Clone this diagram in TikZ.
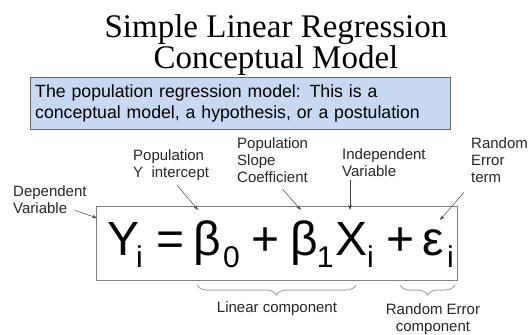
\documentclass[tikz,border=0pt]{standalone}
\usepackage{fontspec}
\setmainfont{Liberation Sans}
\newfontfamily\titlefont{Liberation Serif}
\usetikzlibrary{arrows.meta,decorations.pathreplacing}
\definecolor{boxblue}{HTML}{C6D9F1}
\definecolor{labelgray}{HTML}{262626}
\definecolor{bracegray}{HTML}{A6A6A6}
\newcommand{\lowsub}[1]{\raisebox{-12pt}{\fontsize{30}{30}\selectfont #1}}

\begin{document}
\begin{tikzpicture}[
  x=1pt,y=-1pt,
  lbl/.style={font=\fontsize{15}{17}\selectfont,text=labelgray,align=left,
              inner sep=0pt,anchor=base west},
  pointer/.style={-{Stealth[length=5pt,width=3.5pt]},labelgray!85,line width=0.5pt},
  brc/.style={decorate,decoration={brace,mirror,amplitude=10pt},bracegray,line width=1pt}
]
\useasboundingbox (0,0) rectangle (528,335);
\node[font=\titlefont\fontsize{33}{31}\selectfont,align=center,inner sep=0pt,anchor=base]
  (title) at (276,68) {Simple Linear Regression\\Conceptual Model};
\node[draw=gray!80!black,fill=boxblue,anchor=north west,minimum width=420,minimum height=52,
      text width=410,inner xsep=5pt,align=left,font=\fontsize{17.7}{20.5}\selectfont]
  (popbox) at (30,77) {The population regression model: This is a\\conceptual model, a hypothesis, or a postulation};
\node[draw=gray,line width=0.6pt,anchor=north west,minimum width=361,minimum height=74,inner sep=0pt]
  (eqbox) at (96,206) {};
\node[font=\fontsize{48}{48}\selectfont,inner sep=0pt,anchor=base west] (eq) at (107,255)
  {Y\hspace{-3pt}\lowsub{i}\hspace{14pt}=\hspace{9pt}β\hspace{1.5pt}\lowsub{0}\hspace{12pt}+\hspace{10.5pt}β\hspace{-1pt}\lowsub{1}\hspace{1.5pt}X\lowsub{i}\hspace{12.5pt}+\hspace{8.5pt}ε\hspace{3pt}\lowsub{i}};
% labels above
\node[lbl] (depvar) at (13,213) {Dependent\\Variable};
\node[lbl] (yint) at (133,177) {Population\\Y\ \ intercept};
\node[lbl] (slope) at (237,182) {Population\\Slope\\Coefficient};
\node[lbl] (indep) at (342,176) {Independent\\Variable};
\node[lbl] (rterm) at (471,182) {Random\\Error\\term};
\coordinate (tipY) at (97,218);
\coordinate (tipB0) at (198,210);
\coordinate (tipB1) at (301,210);
\coordinate (tipX) at (350,210);
\coordinate (tipE) at (440,220);
\draw[pointer] ([shift={(-12,-3)}]depvar.south east) -- (tipY);
\draw[pointer] ([shift={(6,5)}]yint.south) -- (tipB0);
\draw[pointer] ([shift={(10,7)}]slope.south) -- (tipB1);
\draw[pointer] ([shift={(8,4)}]indep.south west) -- (tipX);
\draw[pointer] ([shift={(-7,10)}]rterm.south west) -- (tipE);
% braces below
\coordinate (linL) at (197,285);
\coordinate (linR) at (356,285);
\coordinate (errL) at (400,285);
\coordinate (errR) at (455,285);
\draw[brc] (linL) -- (linR);
\draw[brc] (errL) -- (errR);
\node[lbl,anchor=base] (lincomp) at (277,312) {Linear component};
\node[lbl,anchor=base,align=center] (errcomp) at (433,331) {Random Error\\component};
\end{tikzpicture}
\end{document}
